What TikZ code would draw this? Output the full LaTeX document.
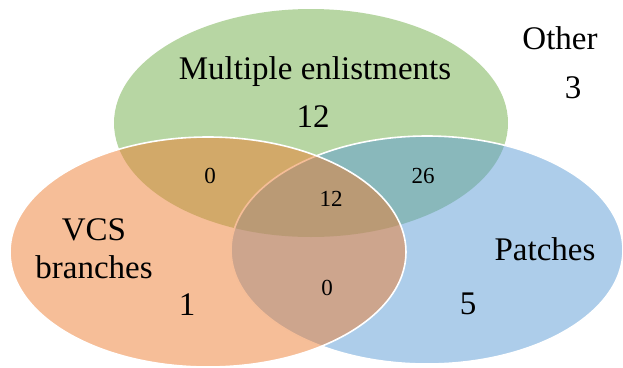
\documentclass[tikz,border=0pt]{standalone}
\usepackage{fontspec}
\setmainfont{Liberation Serif}
\definecolor{vgreen}{HTML}{70AD47}
\definecolor{vblue}{HTML}{5B9BD5}
\definecolor{vorange}{HTML}{ED7D31}
\begin{document}
\begin{tikzpicture}[x=1pt,y=-1pt,
  setshape/.style={fill opacity=0.5, draw opacity=1, line width=1.6pt},
  biglabel/.style={anchor=base, inner sep=0pt, font=\fontsize{33}{38}\selectfont, align=center},
  smalllabel/.style={anchor=base, inner sep=0pt, font=\fontsize{23}{27}\selectfont}]
\useasboundingbox (0,0) rectangle (623,367);
\begin{scope}
\clip (0,0) rectangle (623,367);
\path[setshape, fill=vgreen] (311,123) ellipse [x radius=197, y radius=114];
\path[setshape, fill=vblue, draw=white] (427,250) ellipse [x radius=196, y radius=114];
\path[setshape, fill=vorange, draw=white] (208,252) ellipse [x radius=198, y radius=115];
\end{scope}
\node[biglabel] (me) at (315,79) {Multiple enlistments};
\node[biglabel] (men) at (313,127) {12};
\node[biglabel] (oth) at (560,49) {Other};
\node[biglabel] (othn) at (573,98) {3};
\node[biglabel] (vcs) at (94,278) {VCS\\branches};
\node[biglabel] (vcsn) at (187,315) {1};
\node[biglabel] (pat) at (545,260) {Patches};
\node[biglabel] (patn) at (468,314) {5};
\node[smalllabel] (mv) at (210,183) {0};
\node[smalllabel] (mp) at (423,183) {26};
\node[smalllabel] (all) at (331,206) {12};
\node[smalllabel] (vp) at (327,295) {0};
\end{tikzpicture}
\end{document}
